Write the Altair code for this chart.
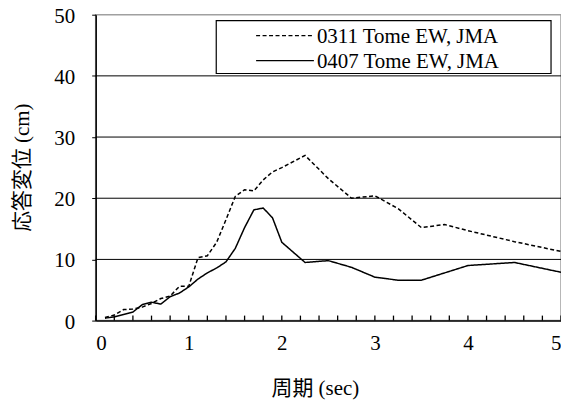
import altair as alt
import pandas as pd

periods = [0.1, 0.2, 0.3, 0.4, 0.5, 0.6, 0.7, 0.8, 0.9, 1.0,
           1.1, 1.2, 1.3, 1.4, 1.5, 1.6, 1.7, 1.8, 1.9, 2.0,
           2.25, 2.5, 2.75, 3.0, 3.25, 3.5, 3.75, 4.0, 4.5, 5.0]
s0311 = [0.5, 0.9, 1.8, 1.9, 2.2, 2.8, 3.6, 4.0, 5.6, 5.6,
         10.3, 10.6, 12.8, 16.5, 20.3, 21.4, 21.2, 23.0, 24.3, 25.0,
         27.0, 23.2, 20.0, 20.4, 18.3, 15.2, 15.7, 14.7, 12.9, 11.3]
s0407 = [0.4, 0.6, 1.0, 1.4, 2.6, 3.0, 2.7, 3.9, 4.5, 5.5,
         6.8, 7.8, 8.6, 9.6, 11.8, 15.2, 18.1, 18.4, 16.8, 12.8,
         9.5, 9.8, 8.7, 7.1, 6.6, 6.6, 7.8, 9.0, 9.5, 7.9]
series_names = ["0311 Tome EW, JMA", "0407 Tome EW, JMA"]
x_ticks = [round(i * 0.2, 1) for i in range(26)]
x_labels = [0, 1, 2, 3, 4, 5]
y_labels = [0, 10, 20, 30, 40, 50]
y_grid = [10, 20, 30, 40]
x_title = "周期 (sec)"
y_title = "応答変位 (cm)"

FONT = "Liberation Serif, Noto Sans CJK JP"
DASHES = [[4, 2.5], [1, 0]]

rows = []
for p, a, b in zip(periods, s0311, s0407):
    rows.append({"period": p, "disp": a, "series": series_names[0]})
    rows.append({"period": p, "disp": b, "series": series_names[1]})
df = pd.DataFrame(rows)

xscale = alt.Scale(domain=[0, 5], nice=False)
yscale = alt.Scale(domain=[0, 50], nice=False)

x_axis = alt.Axis(
    title=x_title, values=x_labels, format="d", ticks=False,
    grid=False, domainColor="black", domainWidth=1.5,
    labelFont=FONT, labelFontSize=21, labelColor="black", labelPadding=12,
    titleFont=FONT, titleFontSize=21, titleFontWeight="normal", titleColor="black",
    titleX=220, titleY=68, titleBaseline="middle", titleAlign="center",
)
y_axis = alt.Axis(
    title=y_title, values=y_labels, grid=False,
    tickColor="black", tickSize=4, domainColor="black", domainWidth=1.5,
    labelFont=FONT, labelFontSize=21, labelColor="black", labelPadding=17,
    labelOffset=1.5,
    titleFont=FONT, titleFontSize=21, titleFontWeight="normal", titleColor="black",
    titleX=-73, titleY=153, titleBaseline="middle", titleAlign="center", titleAngle=-90,
)

grid = alt.Chart(pd.DataFrame({"disp": y_grid})).mark_rule(color="black", strokeWidth=1).encode(
    y=alt.Y("disp:Q", scale=yscale, axis=y_axis)
)

ticks = alt.Chart(pd.DataFrame({"period": x_ticks})).mark_rule(color="black", strokeWidth=1.3).encode(
    x=alt.X("period:Q", scale=xscale, axis=x_axis),
    y=alt.value(307),
    y2=alt.value(302),
)

legend_box = alt.Chart(pd.DataFrame({"d": [0]})).mark_rect(
    fill="white", stroke="black", strokeWidth=1.2
).encode(
    x=alt.value(121), x2=alt.value(457), y=alt.value(6), y2=alt.value(59)
)

legend_layers = []
for i, name in enumerate(series_names):
    yy = 21 + 25 * i
    ld = pd.DataFrame({"label": [name]})
    legend_layers.append(
        alt.Chart(ld).mark_rule(color="black", strokeWidth=1.3, strokeDash=DASHES[i]).encode(
            x=alt.value(161), x2=alt.value(219), y=alt.value(yy)
        )
    )
    legend_layers.append(
        alt.Chart(ld).mark_text(font=FONT, fontSize=21, color="black", align="left",
                                baseline="middle").encode(
            x=alt.value(222), y=alt.value(yy + 1), text="label:N"
        )
    )

lines = alt.Chart(df).mark_line(color="black", strokeWidth=1.5).encode(
    x=alt.X("period:Q", scale=xscale, axis=x_axis),
    y=alt.Y("disp:Q", scale=yscale, axis=y_axis),
    strokeDash=alt.StrokeDash("series:N", scale=alt.Scale(
        domain=series_names, range=DASHES), legend=None),
)

chart = alt.layer(grid, legend_box, *legend_layers, ticks, lines).properties(
    width=467, height=307,
    autosize=alt.AutoSizeParams(type="none"),
    padding={"left": 88, "top": 6, "right": 0, "bottom": 84},
).configure_view(stroke="#a0a0a0", strokeWidth=1.5)

chart.save("out.html", embed_options={"renderer": "svg", "actions": False})
